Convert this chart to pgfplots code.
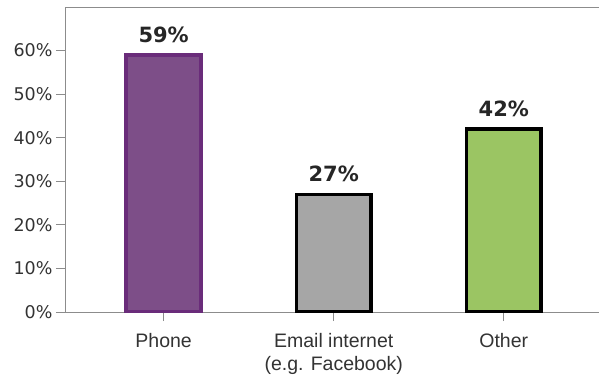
\documentclass[border=0pt]{standalone}
\usepackage{pgfplots}
\pgfplotsset{compat=1.18}
\usepackage{fontspec}
\setmainfont{DejaVu Sans}
\newfontfamily\arial{Liberation Sans}
\definecolor{purp}{HTML}{7D4E88}
\definecolor{purpedge}{HTML}{6A2C7A}
\definecolor{grayfill}{HTML}{A6A6A6}
\definecolor{greenfill}{HTML}{9BC563}
\definecolor{axgray}{HTML}{8C8C8C}
\begin{document}
\begin{tikzpicture}
\useasboundingbox (-65pt,-66pt) rectangle (534pt,312pt);
\begin{axis}[
  at={(0,0)}, anchor=south west,
  scale only axis, width=534pt, height=305pt,
  xmin=-0.58, xmax=2.56, ymin=0, ymax=70,
  axis x line*=bottom, axis y line*=left,
  axis line style={axgray, line width=1pt},
  tick style={axgray, line width=1pt},
  tick align=outside, major tick length=9pt,
  ytick={0,10,...,60},
  yticklabel={\pgfmathprintnumber{\tick}\%},
  /pgf/number format/assume math mode=true,
  yticklabel style={font=\fontsize{17.5}{20}\selectfont, text=black!80},
  xtick={0,1,2},
  xticklabels={Phone, Email internet\\(e.g. Facebook), Other},
  xticklabel style={font=\arial\fontsize{19.5}{23}\selectfont, align=center, text=black!80, yshift=-9pt},
  ybar, bar width=0.44, bar shift=0pt,
  nodes near coords={\pgfmathprintnumber{\pgfplotspointmeta}\%},
  nodes near coords style={font=\bfseries\fontsize{21}{24}\selectfont, text=black!85, yshift=7pt},
]
\addplot[fill=purp, draw=purpedge, line width=3.5pt] coordinates {(0,59)};
\addplot[fill=grayfill, draw=black, line width=3.5pt] coordinates {(1,27)};
\addplot[fill=greenfill, draw=black, line width=3.5pt] coordinates {(2,42)};
\draw[axgray, line width=1pt] (rel axis cs:0,1) -- (rel axis cs:1,1);
\end{axis}
\end{tikzpicture}
\end{document}
